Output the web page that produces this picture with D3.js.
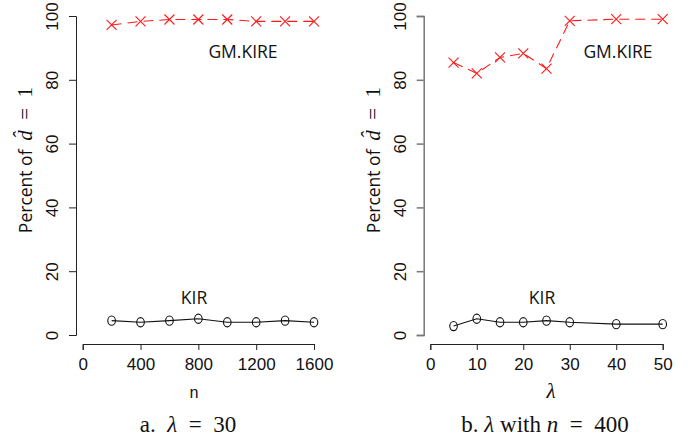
<!DOCTYPE html>
<html><head><meta charset="utf-8">
<script src="https://cdn.jsdelivr.net/npm/d3@7"></script>
<style>
html,body{margin:0;padding:0;background:#fff;}
svg{display:block;}
.tick text{font-family:"Liberation Sans","Open Sans",sans-serif;font-size:17px;fill:#111;}
</style></head>
<body>
<svg id="c" width="689" height="443"></svg>
<script>
// ---- data ----
const nValues = [200, 400, 600, 800, 1000, 1200, 1400, 1600];
const gmKireN = [97.2, 98.3, 98.9, 98.9, 98.9, 98.3, 98.3, 98.3];
const kirN    = [4.5, 4.0, 4.5, 5.1, 4.0, 4.0, 4.5, 4.0];

const lambdaValues = [5, 10, 15, 20, 25, 30, 40, 50];
const gmKireL = [85.4, 82.0, 87.0, 88.3, 83.5, 98.5, 99.0, 99.0];
const kirL    = [2.8, 5.1, 4.0, 4.0, 4.5, 4.0, 3.4, 3.4];

const yTicks = [0, 20, 40, 60, 80, 100];
const xTicksN = [0, 400, 800, 1200, 1600];
const xTicksL = [0, 10, 20, 30, 40, 50];

const svg = d3.select("#c");
const y = d3.scaleLinear().domain([0, 100]).range([335, 16]);
const SP = "\u2002";

function panel(cfg) {
  const g = svg.append("g");
  const x = cfg.x;
  // y axis
  const ya = g.append("g").attr("transform", `translate(${cfg.yAxisX},0)`)
    .call(d3.axisLeft(y).tickValues(yTicks).tickFormat(d3.format("d")).tickSizeOuter(0).tickSize(7).tickPadding(0));
  ya.selectAll("path,line").attr("stroke", cfg.axisColor).attr("stroke-width", cfg.axisWidth);
  ya.selectAll(".tick text").attr("text-anchor", "middle").attr("x", 0).attr("y", 0)
    .attr("dy", "0").attr("transform", "translate(-18,0) rotate(-90)");
  // x axis
  const xa = g.append("g").attr("transform", `translate(0,344)`)
    .call(d3.axisBottom(x).tickValues(cfg.xTicks).tickFormat(d3.format("d")).tickSizeOuter(0).tickSize(6).tickPadding(8));
  xa.selectAll("path,line").attr("stroke", "#222");
  xa.selectAll(".tick text").attr("dy", "0.71em");

  // GM.KIRE line
  const pts1 = cfg.xs.map((v, i) => [x(v), y(cfg.gm[i])]);
  g.append("path").attr("d", d3.line()(pts1)).attr("fill", "none")
    .attr("stroke", "#ff1a1a").attr("stroke-width", 1.1).attr("stroke-dasharray", "10,6");
  const s = 5;
  g.selectAll(null).data(pts1).enter().append("path")
    .attr("d", p => `M${p[0]-s},${p[1]-s}L${p[0]+s},${p[1]+s}M${p[0]-s},${p[1]+s}L${p[0]+s},${p[1]-s}`)
    .attr("stroke", "#ff1a1a").attr("stroke-width", 1.1).attr("fill", "none");

  // KIR line
  const pts2 = cfg.xs.map((v, i) => [x(v), y(cfg.kir[i])]);
  g.append("path").attr("d", d3.line()(pts2)).attr("fill", "none")
    .attr("stroke", "#111").attr("stroke-width", 1.1);
  g.selectAll(null).data(pts2).enter().append("ellipse")
    .attr("cx", p => p[0]).attr("cy", p => p[1]).attr("rx", 3.8).attr("ry", 4.6)
    .attr("fill", "none").attr("stroke", "#111").attr("stroke-width", 1.1);

  // series labels
  g.append("text").attr("x", cfg.gmLabel[0]).attr("y", cfg.gmLabel[1])
    .attr("text-anchor", "middle").attr("font-family", "Open Sans, sans-serif")
    .attr("font-size", 17.5).attr("fill", "#111").text("GM.KIRE");
  g.append("text").attr("x", cfg.kirLabel[0]).attr("y", cfg.kirLabel[1])
    .attr("text-anchor", "middle").attr("font-family", "Open Sans, sans-serif")
    .attr("font-size", 17.5).attr("fill", "#111").text("KIR");

  // y label
  const yl = g.append("text").attr("transform", `translate(${cfg.yLabelX},160) rotate(-90)`)
    .attr("text-anchor", "middle").attr("fill", "#111");
  yl.append("tspan").attr("font-family", "Open Sans, sans-serif").attr("font-size", 17.5).text("Percent of" + SP);
  yl.append("tspan").attr("font-family", "Liberation Serif, serif").attr("font-style", "italic").attr("font-size", 21).text("d\u0302");
  yl.append("tspan").attr("font-family", "Liberation Serif, serif").attr("font-size", 21).text(SP + "=" + SP + "1");

  cfg.xLabel(g);
  cfg.caption(g);
}

panel({
  x: d3.scaleLinear().domain([0, 1600]).range([82.7, 314]),
  xTicks: xTicksN, xs: nValues, gm: gmKireN, kir: kirN,
  yAxisX: 76, axisColor: "#222", axisWidth: 1,
  gmLabel: [243, 58], kirLabel: [194, 304], yLabelX: 32,
  xLabel: g => g.append("text").attr("x", 194).attr("y", 398).attr("text-anchor", "middle")
    .attr("font-family", "Liberation Mono, monospace").attr("font-size", 16).attr("fill", "#111").text("n"),
  caption: g => {
    const t = g.append("text").attr("x", 188).attr("y", 432).attr("text-anchor", "middle")
      .attr("font-family", "Liberation Serif, serif").attr("font-size", 23).attr("fill", "#111");
    t.append("tspan").text("a." + SP);
    t.append("tspan").attr("font-style", "italic").text("λ");
    t.append("tspan").text(SP + "=" + SP + "30");
  }
});

panel({
  x: d3.scaleLinear().domain([0, 50]).range([430.3, 662.7]),
  xTicks: xTicksL, xs: lambdaValues, gm: gmKireL, kir: kirL,
  yAxisX: 423.7, axisColor: "#777", axisWidth: 1.5,
  gmLabel: [618, 58], kirLabel: [542, 304], yLabelX: 380,
  xLabel: g => g.append("text").attr("x", 551).attr("y", 398).attr("text-anchor", "middle")
    .attr("font-family", "Liberation Serif, serif").attr("font-style", "italic").attr("font-size", 21).attr("fill", "#111").text("λ"),
  caption: g => {
    const t = g.append("text").attr("x", 545).attr("y", 432).attr("text-anchor", "middle")
      .attr("font-family", "Liberation Serif, serif").attr("font-size", 23).attr("fill", "#111");
    t.append("tspan").text("b. ");
    t.append("tspan").attr("font-style", "italic").text("λ");
    t.append("tspan").text(" with ");
    t.append("tspan").attr("font-style", "italic").text("n");
    t.append("tspan").text(SP + "=" + SP + "400");
  }
});
</script>
</body></html>
